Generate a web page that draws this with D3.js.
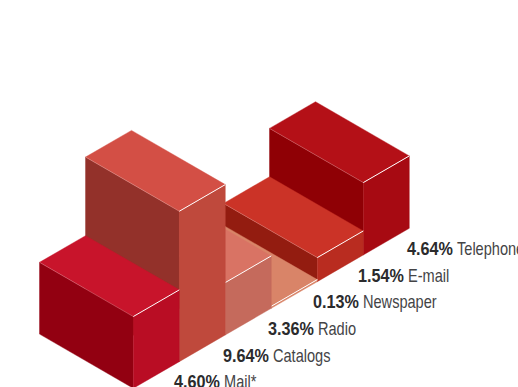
<!DOCTYPE html>
<html>
<head>
<meta charset="utf-8">
<script src="https://cdn.jsdelivr.net/npm/d3@7"></script>
<style>
  html, body { margin: 0; padding: 0; background: #fff; }
  svg { display: block; }
  text { font-family: "Liberation Sans", sans-serif; font-size: 18px; fill: #444446; }
  .pct { font-weight: bold; fill: #2b2b2d; }
</style>
</head>
<body>
<svg id="chart" width="518" height="387"></svg>
<script>
// Share of responses by channel, drawn as isometric columns.
const categories = ["Mail*", "Catalogs", "Radio", "Newspaper", "E-mail", "Telephone"];
const shares = [4.60, 9.64, 3.36, 0.13, 1.54, 4.64];
const topColors = ["#C8142B", "#D34F45", "#D97364", "#D98468", "#CB3327", "#B41017"];
const leftColors = ["#920011", "#93312A", "#C56A5C", "#C97A60", "#931C10", "#8F0005"];
const rightColors = ["#B90D24", "#BF493C", "#C56A5C", "#D98468", "#B92C20", "#A70A12"];

const svg = d3.select("#chart");

// Position along the front baseline, running up and to the right.
const baseX = d3.scaleLinear().domain([0, 6]).range([133.3, 409.3]);
const baseY = d3.scaleLinear().domain([0, 6]).range([388.3, 228.3]);
// Column height in pixels per percentage point.
const height = d3.scaleLinear().domain([0, 10]).range([0, 156]);
// Offset of the back edge of every column.
const depth = { x: -93.8, y: -54.2 };

const pathOf = pts => d3.line()(pts) + "Z";

// Columns further up the baseline sit behind, so they are painted first.
const order = d3.range(categories.length).reverse();

const columns = svg.selectAll("g.column")
  .data(order)
  .join("g")
  .attr("class", "column");

// A hairline in the face colour closes the gaps between neighbouring faces.
const face = (g, color, pts) => g.append("path")
  .attr("fill", color).attr("stroke", color).attr("stroke-width", 0.4)
  .attr("d", pathOf(pts));

columns.each(function (i) {
  const g = d3.select(this);
  const h = height(shares[i]);
  const fx = baseX(i), fy = baseY(i);
  const rx = baseX(i + 1), ry = baseY(i + 1);
  const front = [fx, fy - h], right = [rx, ry - h];
  const left = [fx + depth.x, fy + depth.y - h];
  const back = [rx + depth.x, ry + depth.y - h];

  face(g, leftColors[i], [left, front, [fx, fy], [fx + depth.x, fy + depth.y]]);
  face(g, rightColors[i], [front, right, [rx, ry], [fx, fy]]);
  face(g, topColors[i], [left, back, right, front]);

  // Pale seam along the top-left edge, with a bright ridge on the right.
  g.append("line").attr("stroke", "#fff").attr("stroke-opacity", 0.35).attr("stroke-width", 0.6)
    .attr("x1", left[0]).attr("y1", left[1])
    .attr("x2", front[0]).attr("y2", front[1]);
  g.append("line").attr("stroke", "#fff").attr("stroke-width", 1)
    .attr("x1", front[0]).attr("y1", front[1])
    .attr("x2", right[0]).attr("y2", right[1]);
});

// Labels step along the baseline; the condensed look comes from a horizontal squeeze.
const labelShift = [40.7, 43.7, 42.7, 41.7, 40.7, 43.7];
const pctSqueeze = 0.9, nameSqueeze = 0.81, nameGap = 50;

const labels = svg.selectAll("g.label")
  .data(categories)
  .join("g")
  .attr("class", "label")
  .attr("transform", (d, i) => `translate(${baseX(i) + labelShift[i]},${baseY(i)})`);

labels.append("text").attr("class", "pct")
  .attr("transform", `scale(${pctSqueeze},1)`)
  .text((d, i) => shares[i].toFixed(2) + "%");
labels.append("text")
  .attr("transform", `translate(${nameGap},0) scale(${nameSqueeze},1)`)
  .text(d => d);
</script>
</body>
</html>
